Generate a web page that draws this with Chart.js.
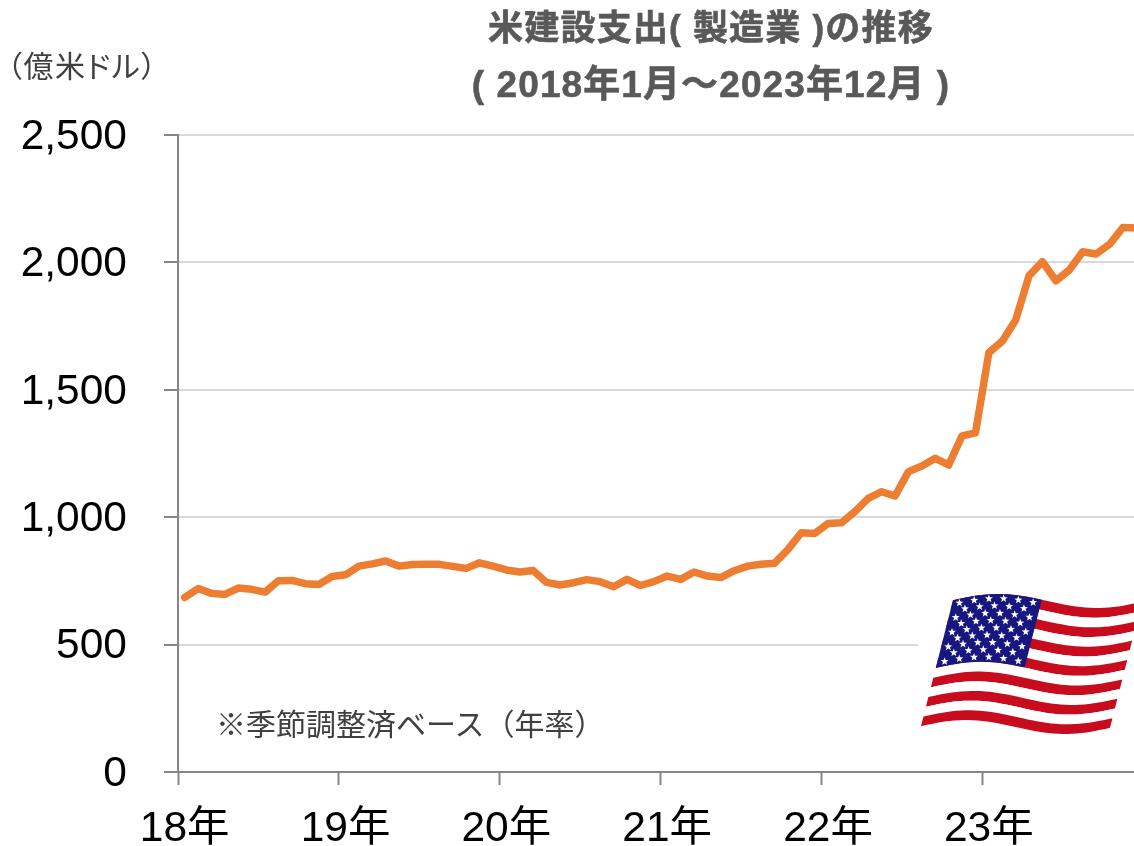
<!DOCTYPE html>
<html lang="ja">
<head>
<meta charset="utf-8">
<title>米建設支出(製造業)の推移</title>
<style>
  html, body { margin: 0; padding: 0; background: #fff; overflow: hidden; }
  #wrap { position: relative; width: 1134px; height: 846px; overflow: hidden; }
  canvas { position: absolute; left: 0; top: 0; }
  .txt { position: absolute; white-space: nowrap; font-family: "Noto Sans CJK JP", "Liberation Sans", sans-serif; }
  .title { left: 411px; width: 600px; text-align: center; color: #595959; font-weight: 700; line-height: 40px; font-family: "Liberation Sans", "Noto Sans CJK JP", sans-serif; -webkit-text-stroke: 0.6px #595959; }
  #unit { left: 7px; top: 44px; font-size: 30px; line-height: 40px; color: #404040; font-feature-settings: "palt"; letter-spacing: 1.5px; }
  #note { left: 216px; top: 702px; font-size: 30px; line-height: 40px; color: #404040; }
</style>
<script src="https://cdn.jsdelivr.net/npm/chart.js@4/dist/chart.umd.min.js"></script>
</head>
<body>
<div id="wrap">
  <canvas id="chart" width="1163" height="846"></canvas>
  <div class="txt title" style="top:8px; font-size:35px; letter-spacing:1.2px">米建設支出( 製造業 )の推移</div>
  <div class="txt title" style="top:65px; font-size:37px; letter-spacing:1.1px">( 2018年1月～2023年12月 )</div>
  <div class="txt" id="unit">（億米ドル）</div>
  <div class="txt" id="note">※季節調整済ベース（年率）</div>
</div>
<script>
const years = ['18年', '19年', '20年', '21年', '22年', '23年'];
const yTicks = [0, 500, 1000, 1500, 2000, 2500];

const values2018 = [685, 720, 701, 697, 722, 717, 706, 751, 752, 739, 736, 767];
const values2019 = [774, 808, 817, 828, 808, 814, 815, 815, 807, 799, 821, 808];
const values2020 = [793, 785, 791, 744, 734, 743, 755, 747, 727, 756, 732, 747];
const values2021 = [769, 756, 785, 769, 763, 790, 808, 815, 819, 873, 939, 936];
const values2022 = [975, 978, 1022, 1074, 1100, 1083, 1179, 1201, 1231, 1205, 1319, 1331];
const values2023 = [1646, 1691, 1774, 1948, 2003, 1928, 1970, 2042, 2033, 2071, 2137, 2135];

const spending = [...values2018, ...values2019, ...values2020, ...values2021, ...values2022, ...values2023];
// one category per month, only January gets a visible label
const labels = years.flatMap(y => Array(12).fill(y));

const AXIS_COLOR = '#868686';
const GRID_COLOR = '#d9d9d9';
const LINE_COLOR = '#ed7d31';
const TICK_FONT = { family: '"Liberation Sans", "Noto Sans CJK JP", sans-serif', size: 42.5 };

// waving flag, mapped from (u, v) on the cloth to canvas pixels
function flagPoint(u, v) {
  const x = 953 - 32 * v + 189 * u;
  const y = 601 + 126 * v - 7 * Math.sin(2 * Math.PI * (u + 0.02) / 1.04);
  return [x, y];
}

function fillPatch(ctx, u0, u1, v0, v1, color) {
  ctx.beginPath();
  for (let i = 0; i <= 40; i++) {
    const [x, y] = flagPoint(u0 + (u1 - u0) * i / 40, v0);
    i === 0 ? ctx.moveTo(x, y) : ctx.lineTo(x, y);
  }
  for (let i = 40; i >= 0; i--) {
    const [x, y] = flagPoint(u0 + (u1 - u0) * i / 40, v1);
    ctx.lineTo(x, y);
  }
  ctx.closePath();
  ctx.fillStyle = color;
  ctx.fill();
}

function drawStar(ctx, cx, cy, r) {
  ctx.beginPath();
  for (let i = 0; i < 10; i++) {
    const a = -Math.PI / 2 + i * Math.PI / 5;
    const d = i % 2 === 0 ? r : r * 0.42;
    ctx.lineTo(cx + d * Math.cos(a), cy + d * Math.sin(a));
  }
  ctx.closePath();
  ctx.fillStyle = '#fff';
  ctx.fill();
}

const flagPlugin = {
  id: 'flag',
  afterDraw(chart) {
    const ctx = chart.ctx;
    ctx.save();
    // white picture background hides the end of the 500 gridline
    ctx.fillStyle = '#fff';
    ctx.fillRect(918, 588, 245, 148);

    const stripe = 1 / 13;
    for (let s = 0; s < 13; s++) {
      fillPatch(ctx, 0, 1, s * stripe, (s + 1) * stripe, s % 2 === 0 ? '#c80c1e' : '#fff');
    }
    fillPatch(ctx, 0, 0.47, 0, 7 * stripe, '#17177f');
    for (let row = 0; row < 9; row++) {
      const n = row % 2 === 0 ? 6 : 5;
      for (let c = 0; c < n; c++) {
        const u = (row % 2 === 0 ? 0.04 + c * 0.078 : 0.079 + c * 0.078);
        const v = 0.035 + row * 0.058;
        const [x, y] = flagPoint(u, v);
        drawStar(ctx, x, y, 4.2);
      }
    }
    ctx.restore();
  }
};

new Chart(document.getElementById('chart'), {
  type: 'line',
  data: {
    labels: labels,
    datasets: [{
      data: spending,
      borderColor: LINE_COLOR,
      borderWidth: 7.5,
      borderCapStyle: 'round',
      borderJoinStyle: 'round',
      pointRadius: 0,
      tension: 0,
      fill: false
    }]
  },
  options: {
    responsive: false,
    animation: false,
    // the plot runs on past the window's right edge, as in the reference
    layout: { padding: { top: 135, right: 20, left: 0, bottom: 0 } },
    plugins: { legend: { display: false }, tooltip: { enabled: false }, title: { display: false } },
    scales: {
      x: {
        type: 'category',
        offset: true,
        border: { color: AXIS_COLOR, width: 2 },
        grid: {
          offset: true,
          drawOnChartArea: false,
          tickLength: 13,
          tickWidth: 2,
          tickColor: ctx => ctx.index % 12 === 0 ? AXIS_COLOR : 'rgba(0,0,0,0)'
        },
        ticks: {
          autoSkip: false,
          maxRotation: 0,
          minRotation: 0,
          padding: 19,
          color: '#000',
          font: TICK_FONT,
          callback: (v, i) => i % 12 === 0 ? labels[i] : ''
        },
        afterFit: scale => { scale.height = 74; }
      },
      y: {
        min: 0,
        max: 2500,
        border: { color: AXIS_COLOR, width: 2 },
        grid: {
          color: GRID_COLOR,
          lineWidth: 2,
          tickLength: 14,
          tickWidth: 2,
          tickColor: AXIS_COLOR
        },
        afterBuildTicks: scale => { scale.ticks = yTicks.map(v => ({ value: v })); },
        ticks: {
          padding: 37,
          labelOffset: 2,
          color: '#000',
          font: TICK_FONT,
          callback: v => v.toLocaleString('en-US')
        },
        afterFit: scale => { scale.width = 178; }
      }
    }
  },
  plugins: [flagPlugin]
});
</script>
</body>
</html>
